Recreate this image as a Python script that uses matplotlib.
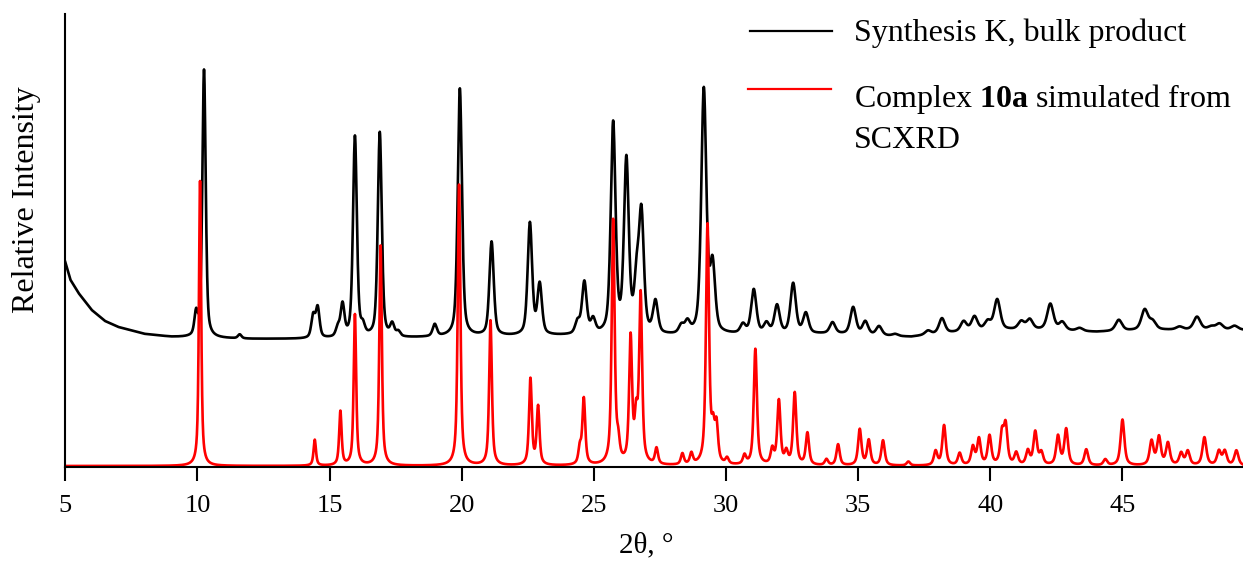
import numpy as np
import matplotlib.pyplot as plt
from matplotlib.lines import Line2D

plt.rcParams['font.family'] = ['Liberation Serif', 'DejaVu Serif']
plt.rcParams['mathtext.fontset'] = 'custom'
plt.rcParams['mathtext.rm'] = 'Liberation Serif'
plt.rcParams['mathtext.bf'] = 'Liberation Serif:bold'

bg_pos = [5.0, 5.2, 5.5, 6.0, 6.5, 7.0, 8.0, 9.0, 10.0, 12.0, 14.0, 18.0,
          20.0, 24.0, 28.0, 30.0, 34.0, 36.0, 37.0, 38.0, 40.0, 42.0, 44.0,
          46.0, 49.6]
bg_val = [204, 186, 173, 156, 145, 139, 132, 129, 128, 127, 127, 128,
          129, 130, 130, 131, 132, 130, 129, 132, 136, 136, 134, 136, 136]

# Synthesis K, bulk product: peak positions and heights above background
bulk_pos = [9.95, 10.25, 11.6, 14.38, 14.55, 15.31, 15.49, 15.96, 16.26,
            16.9, 17.37, 17.6, 18.98, 19.93, 21.13, 22.58, 22.95, 24.38,
            24.64, 24.97, 25.73, 26.23, 26.62, 26.8, 27.33, 28.31, 28.54,
            29.16, 29.49, 30.64, 31.05, 31.53, 31.93, 32.54, 33.02, 34.03,
            34.81, 35.27, 35.79, 36.4, 37.64, 38.17, 38.99, 39.4, 39.9,
            40.26, 41.17, 41.49, 42.27, 42.72, 43.38, 44.86, 45.84, 46.14,
            47.16, 47.82, 48.36, 48.67, 49.24]
bulk_height = [22, 268, 4, 22, 30, 9, 32, 201, 9,
               205, 12, 5, 12, 248, 94, 112, 50, 12,
               52, 14, 210, 172, 50, 116, 32, 8, 11,
               244, 66, 9, 44, 10, 28, 50, 20, 11,
               27, 13, 9, 2, 4, 15, 10, 14, 8,
               30, 8, 10, 26, 8, 3, 11, 20, 8,
               3, 13, 3, 6, 4]

# Complex 10a simulated from SCXRD: peak positions and heights
sim_pos = [10.1, 14.44, 15.41, 15.96, 16.93, 19.9, 21.09, 22.6, 22.89,
           24.47, 24.62, 25.73, 25.92, 26.39, 26.6, 26.77, 27.37, 28.35,
           28.69, 29.3, 29.51, 29.64, 30.04, 30.7, 31.11, 31.75, 32.0,
           32.28, 32.6, 33.08, 33.8, 34.24, 35.06, 35.4, 35.94, 36.9,
           37.93, 38.25, 38.84, 39.34, 39.57, 39.97, 40.44, 40.58, 40.98,
           41.42, 41.7, 41.93, 42.56, 42.87, 43.63, 44.35, 45.0, 46.1,
           46.38, 46.72, 47.22, 47.47, 48.1, 48.65, 48.87, 49.31]
sim_height = [285, 26, 54, 151, 220, 281, 145, 86, 58,
              16, 66, 244, 18, 125, 42, 168, 16, 11,
              11, 239, 30, 36, 6, 9, 116, 15, 64,
              12, 72, 32, 6, 21, 36, 25, 25, 4,
              14, 40, 12, 18, 26, 29, 30, 38, 12,
              14, 33, 12, 29, 36, 16, 6, 46, 24,
              28, 22, 12, 14, 28, 14, 14, 15]

tick_values = [5, 10, 15, 20, 25, 30, 35, 40, 45]


def pattern(x, positions, heights, fwhm0, slope, eta):
    """Sum of pseudo-Voigt peaks on the 2theta grid x"""
    y = np.zeros_like(x)
    for p, h in zip(positions, heights):
        w = fwhm0 + slope * (p - 10)
        g = np.exp(-4 * np.log(2) * ((x - p) / w) ** 2)
        lo = 1 / (1 + 4 * ((x - p) / w) ** 2)
        y += h * (eta * lo + (1 - eta) * g)
    return y


two_theta = np.arange(5.0, 49.55, 0.01)
bulk = np.interp(two_theta, bg_pos, bg_val) + \
    pattern(two_theta, bulk_pos, bulk_height, 0.15, 0.004, 0.5)
sim = pattern(two_theta, sim_pos, sim_height, 0.1, 0.002, 0.7)

fig = plt.figure(figsize=(12.43, 5.63), dpi=100)
ax = fig.add_axes([0.0525, 0.1705, 0.9475, 0.8045])

ax.plot(two_theta, bulk, color='black', lw=1.9)
ax.plot(two_theta, sim, color='#ff0000', lw=1.9)

ax.set_xlim(5, 49.56)
ax.set_ylim(-1, 452)
ax.set_xticks(tick_values)
ax.set_yticks([])
for side in ['top', 'right']:
    ax.spines[side].set_visible(False)
for side in ['left', 'bottom']:
    ax.spines[side].set_linewidth(1.5)
ax.tick_params(axis='x', direction='out', length=10, width=1.5,
               pad=10, labelsize=19)

fig.text(646 / 1243, 1 - 552 / 563, '2θ, °', fontsize=21,
         ha='center', va='baseline')
fig.text(27 / 1243, 1 - 200 / 563, 'Relative Intensity', fontsize=23,
         rotation=90, ha='center', va='center')

# legend drawn by hand so the red key sits on the first text line
fig.add_artist(Line2D([750 / 1243, 832 / 1243], [1 - 31 / 563] * 2,
                      color='black', lw=1.6, transform=fig.transFigure))
fig.add_artist(Line2D([748 / 1243, 831 / 1243], [1 - 89 / 563] * 2,
                      color='#ff0000', lw=1.6, transform=fig.transFigure))
fig.text(854 / 1243, 1 - 41.5 / 563, 'Synthesis K, bulk product',
         fontsize=23, va='baseline')
fig.text(854 / 1243, 1 - 107 / 563, r'Complex $\mathbf{10a}$ simulated from',
         fontsize=23, va='baseline')
fig.text(854 / 1243, 1 - 148 / 563, 'SCXRD', fontsize=23, va='baseline')

fig.savefig('out.png', dpi=100)
